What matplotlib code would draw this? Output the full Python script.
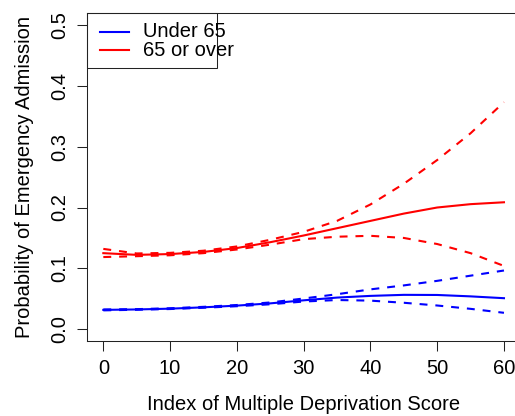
import matplotlib
matplotlib.use("Agg")
import matplotlib.pyplot as plt
from matplotlib.patches import Rectangle

# ----------------------------
# DATA
# ----------------------------
imd_score = [0, 5, 10, 15, 20, 25, 30, 35, 40, 45, 50, 55, 60]

over65_fit = [0.125, 0.1222, 0.1235, 0.127, 0.1334, 0.143, 0.154,
              0.166, 0.178, 0.190, 0.200, 0.2055, 0.2086]
over65_upper = [0.132, 0.1245, 0.1255, 0.129, 0.136, 0.147, 0.160,
                0.178, 0.205, 0.239, 0.278, 0.322, 0.373]
over65_lower = [0.1186, 0.120, 0.1215, 0.125, 0.131, 0.139, 0.148,
                0.152, 0.1535, 0.150, 0.140, 0.125, 0.104]

under65_fit = [0.0318, 0.0325, 0.0338, 0.036, 0.0388, 0.0425, 0.0475,
               0.052, 0.0548, 0.0565, 0.0563, 0.054, 0.051]
under65_upper = [0.0325, 0.033, 0.0345, 0.0368, 0.0398, 0.044, 0.0505,
                 0.0575, 0.0655, 0.072, 0.0795, 0.088, 0.0965]
under65_lower = [0.031, 0.032, 0.0332, 0.0353, 0.0378, 0.041, 0.0455,
                 0.048, 0.047, 0.0435, 0.039, 0.0335, 0.027]

legend_labels = ["Under 65", "65 or over"]
legend_colors = ["#0000FF", "#FF0000"]

x_ticks = [0, 10, 20, 30, 40, 50, 60]
y_ticks = [0.0, 0.1, 0.2, 0.3, 0.4, 0.5]

# ----------------------------
# VISUALIZATION
# ----------------------------
plt.rcParams['font.family'] = ['Liberation Sans', 'DejaVu Sans']
fs = 14.5

fig = plt.figure(figsize=(5.15, 4.16), dpi=100)
ax = fig.add_axes([0.1695, 0.1793, 0.8402, 0.7901])

lw = 1.5
dash = (0, (3.8, 3.8))

ax.plot(imd_score, under65_fit, color="#0000FF", lw=lw)
ax.plot(imd_score, under65_upper, color="#0000FF", lw=lw, linestyle=dash)
ax.plot(imd_score, under65_lower, color="#0000FF", lw=lw, linestyle=dash)

ax.plot(imd_score, over65_fit, color="#FF0000", lw=lw)
ax.plot(imd_score, over65_upper, color="#FF0000", lw=lw, linestyle=dash)
ax.plot(imd_score, over65_lower, color="#FF0000", lw=lw, linestyle=dash)

ax.set_xlim(-2.4, 62.4)
ax.set_ylim(-0.02, 0.52)
ax.set_xticks(x_ticks)
ax.set_xticklabels([str(t) for t in x_ticks])
ax.set_yticks(y_ticks)
ax.set_yticklabels([f"{t:.1f}" for t in y_ticks], rotation=90, va="center")

ax.tick_params(axis="both", direction="out", length=7, width=0.75,
               color="#222222", labelsize=fs)
ax.tick_params(axis="x", pad=6)
ax.tick_params(axis="y", pad=6)

for sp in ax.spines.values():
    sp.set_linewidth(0.75)
    sp.set_color("#222222")

ax.set_xlabel("Index of Multiple Deprivation Score", fontsize=fs, labelpad=12)
ax.set_ylabel("Probability of Emergency Admission", fontsize=fs, labelpad=12)

# legend drawn by hand (R lets the text spill over the box)
ax.add_patch(Rectangle((0, 0.832), 0.30, 0.168, transform=ax.transAxes,
                       fill=False, lw=0.75, edgecolor="#222222",
                       clip_on=False))
for i, (lab, col) in enumerate(zip(legend_labels, legend_colors)):
    yy = 0.942 - i * 0.0555
    ax.plot([0.03, 0.0965], [yy, yy], color=col, lw=lw,
            transform=ax.transAxes, clip_on=False)
    ax.text(0.1287, yy, lab, transform=ax.transAxes, va="center",
            ha="left", fontsize=fs)

fig.savefig("out.png", dpi=100)
